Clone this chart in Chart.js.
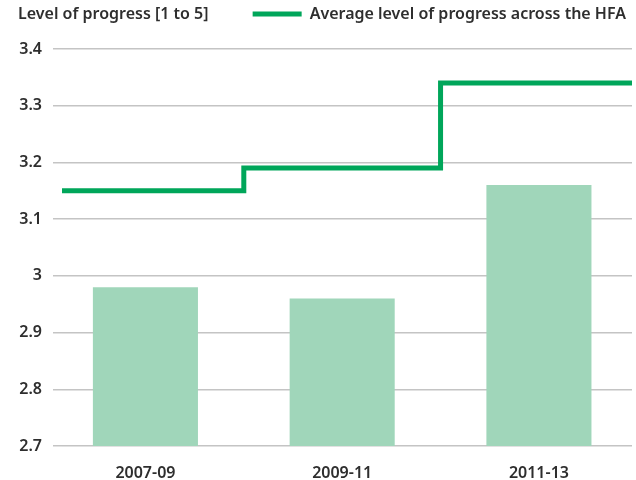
<!DOCTYPE html>
<html>
<head>
<meta charset="utf-8">
<script src="https://cdn.jsdelivr.net/npm/chart.js@4/dist/chart.umd.min.js"></script>
<style>
  html, body { margin: 0; padding: 0; background: #fff; }
  #wrap { width: 636px; height: 480px; position: relative; }
</style>
</head>
<body>
<div id="wrap"><canvas id="c" width="636" height="480"></canvas></div>
<script>
const categories = ['2007-09', '2009-11', '2011-13'];
const progressValues = [2.98, 2.96, 3.16];
const averageValues = [3.15, 3.19, 3.34];
const yTickLabels = ['2.7', '2.8', '2.9', '3', '3.1', '3.2', '3.3', '3.4'];
const yAxisTitle = 'Level of progress [1 to 5]';
const averageLabel = 'Average level of progress across the HFA';

const FONT = "'Noto Sans', 'DejaVu Sans', sans-serif";
const TEXT = '#2e2e2e';
const GREEN = '#00a65a';
const BAR = '#a0d6ba';
const GRID = '#c4c4c4';

const barPoints = progressValues.map((v, i) => ({ x: i, y: v }));
const stepPoints = averageValues.map((v, i) => ({ x: i - 0.5, y: v }));
stepPoints.push({ x: averageValues.length - 0.5, y: averageValues[averageValues.length - 1] });

const headerTitle = {
  id: 'headerTitle',
  beforeInit(chart) {
    const lg = chart.legend;
    const origFit = lg.fit;
    lg.fit = function () { origFit.call(this); this.height += 17; };
  },
  afterDraw(chart) {
    const ctx = chart.ctx;
    ctx.save();
    ctx.font = "600 16px " + FONT;
    ctx.fillStyle = TEXT;
    ctx.textBaseline = 'middle';
    ctx.textAlign = 'left';
    const it = chart.legend.legendHitBoxes[0];
    const cy = it ? it.top + it.height / 2 : 14;
    ctx.fillText(yAxisTitle, 18, cy);
    ctx.restore();
  }
};

new Chart(document.getElementById('c'), {
  data: {
    datasets: [
      {
        type: 'line',
        label: averageLabel,
        data: stepPoints,
        borderColor: GREEN,
        backgroundColor: GREEN,
        borderWidth: 5,
        stepped: true,
        pointRadius: 0,
        fill: false,
        clip: 0,
        order: 0
      },
      {
        type: 'bar',
        label: 'Level of progress',
        data: barPoints,
        backgroundColor: BAR,
        borderWidth: 0,
        categoryPercentage: 1,
        barPercentage: 0.534,
        order: 1
      }
    ]
  },
  options: {
    responsive: false,
    animation: false,
    layout: { padding: { left: 18, right: 4, top: 0, bottom: 0 } },
    plugins: {
      tooltip: { enabled: false },
      legend: {
        display: true,
        position: 'top',
        align: 'end',
        labels: {
          filter: (item) => item.datasetIndex === 0,
          generateLabels(chart) {
            const items = Chart.defaults.plugins.legend.labels.generateLabels(chart);
            return items.map(it => Object.assign(it, { lineWidth: 0, fillStyle: GREEN, fontColor: TEXT }));
          },
          boxWidth: 49,
          boxHeight: 5,
          padding: 6,
          color: TEXT,
          font: { family: FONT, size: 16, weight: '600' }
        }
      }
    },
    scales: {
      x: {
        type: 'linear',
        offset: false,
        min: -0.424,
        max: 2.473,
        afterBuildTicks(axis) { axis.ticks = categories.map((c, i) => ({ value: i })); },
        afterFit(axis) { axis.height = 34; },
        ticks: {
          callback: (v) => categories[v],
          color: TEXT,
          padding: 18,
          autoSkip: false,
          maxRotation: 0,
          font: { family: FONT, size: 16, weight: '600' }
        },
        grid: { display: false, drawTicks: false, offset: false },
        border: { display: false }
      },
      y: {
        min: 2.7,
        max: 3.4,
        afterBuildTicks(axis) { axis.ticks = yTickLabels.map(s => ({ value: parseFloat(s) })); },
        afterFit(axis) { axis.width = 44; },
        ticks: {
          callback: (v) => yTickLabels.find(s => Math.abs(parseFloat(s) - v) < 1e-6),
          color: TEXT,
          padding: 11,
          font: { family: FONT, size: 16, weight: '600' }
        },
        grid: { color: GRID, lineWidth: 1.5, drawTicks: true, tickLength: 9, tickColor: GRID },
        border: { display: false }
      }
    }
  },
  plugins: [headerTitle]
});
</script>
</body>
</html>
